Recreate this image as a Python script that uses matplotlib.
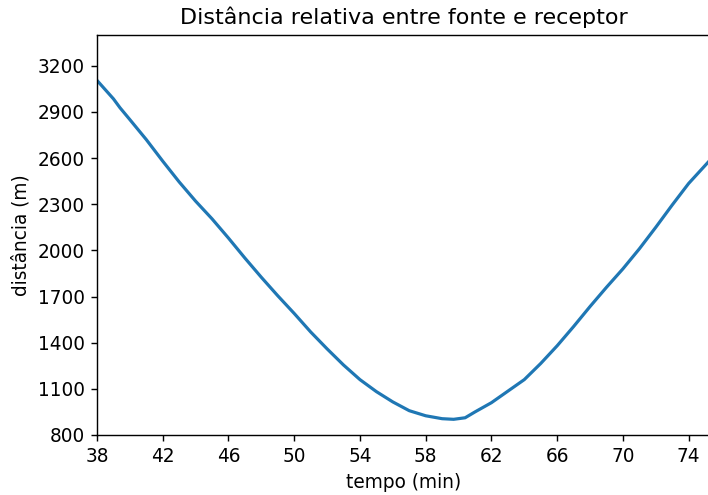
import matplotlib
matplotlib.use('Agg')
import matplotlib.pyplot as plt

#---- data ----
tempo = [38.0, 39.0, 39.4, 40.0, 41.0, 42.0, 43.0, 44.0, 45.0, 46.0, 47.0, 48.0,
         49.0, 50.0, 51.0, 52.0, 53.0, 54.0, 55.0, 56.0, 57.0, 58.0, 59.0, 59.7,
         60.4, 61.0, 62.0, 63.0, 64.0, 65.0, 66.0, 67.0, 68.0, 69.0, 70.0, 71.0,
         72.0, 73.0, 74.0, 75.2]
distancia = [3105, 2985, 2927, 2850, 2720, 2580, 2445, 2320, 2205, 2080, 1950, 1825,
             1705, 1590, 1470, 1360, 1255, 1160, 1082, 1015, 958, 925, 906, 902,
             912, 950, 1010, 1085, 1160, 1265, 1380, 1505, 1635, 1760, 1880, 2010,
             2150, 2295, 2435, 2575]

xticks = list(range(38, 76, 4))
yticks = list(range(800, 3400, 300))

#---- plot ----
plt.rcParams['font.size'] = 10.5
fig = plt.figure(figsize=(708 / 127, 495 / 127), dpi=127)
ax = fig.add_axes([97 / 708, 60 / 495, 613 / 708, 400 / 495])

ax.plot(tempo, distancia, color='#1f77b4', linewidth=1.8)
ax.set_xlim(38, 75.3)
ax.set_ylim(800, 3400)
ax.set_xticks(xticks)
ax.set_yticks(yticks)
ax.set_title('Distância relativa entre fonte e receptor', fontsize=12.6)
ax.set_xlabel('tempo (min)')
ax.set_ylabel('distância (m)')

fig.savefig('out.png', dpi=127)
